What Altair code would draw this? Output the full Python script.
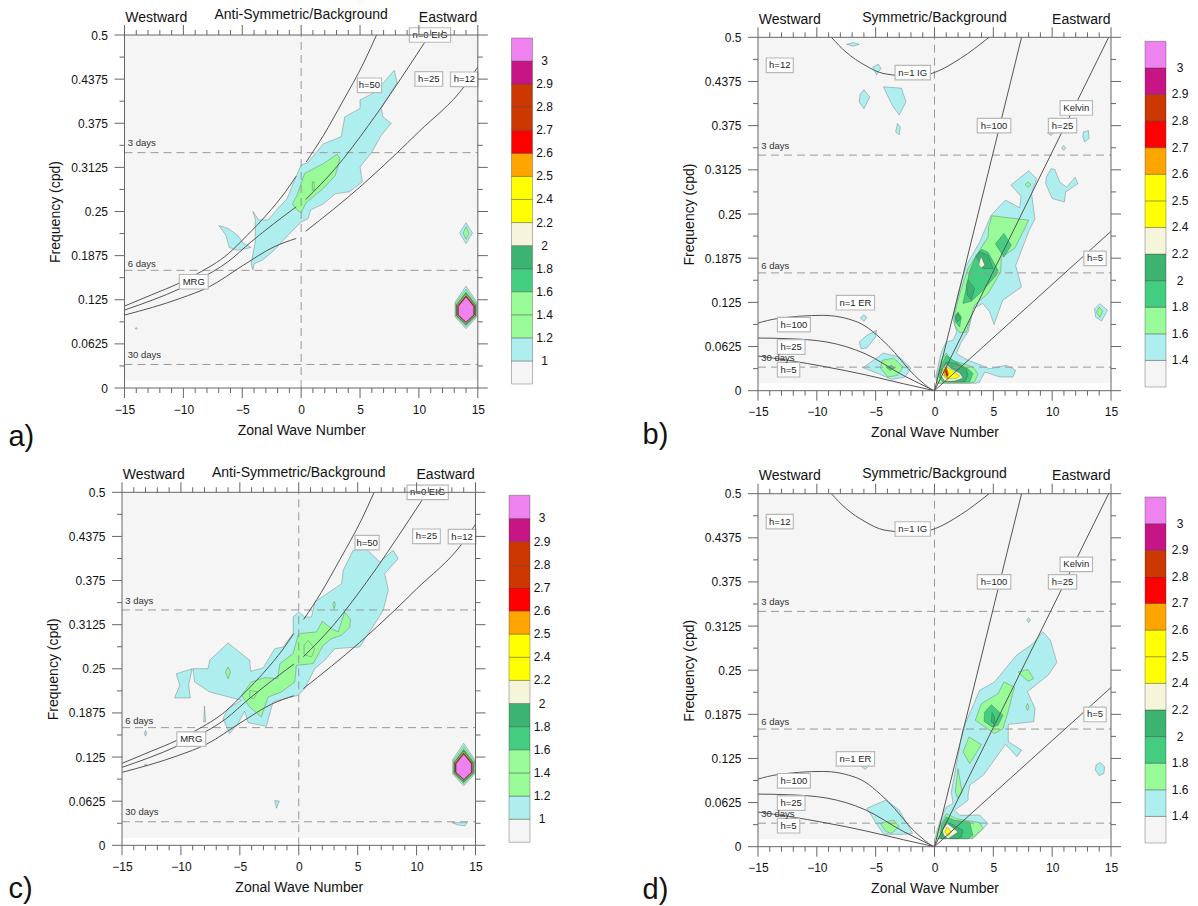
import altair as alt
import pandas as pd

FONT = "Liberation Sans"
COLORS = {"grey": "#f5f5f5", "blue": "#afeeee", "green": "#98fb98", "sea": "#43cd80", "dark": "#3cb371",
          "cream": "#f5f5dc", "yellow": "#ffff00", "orange": "#ffa500", "red": "#ff0000", "brick": "#cd3700",
          "crimson": "#c71585", "orchid": "#ee82ee"}
LEVEL_ORDER = ["blue", "green", "sea", "dark", "cream", "yellow", "orange", "red", "brick", "crimson", "orchid"]

# nested contours of the peak at wavenumber 14: level, top, bottom, half width
PEAK = [("blue", .1445, .084, .93), ("green", .140, .087, .88), ("sea", .136, .089, .82), ("dark", .134, .090, .79),
        ("cream", .133, .091, .76), ("yellow", .132, .092, .74), ("orange", .131, .0925, .72), ("red", .1305, .093, .70),
        ("brick", .130, .0932, .68), ("crimson", .1295, .0935, .66), ("orchid", .129, .0935, .64)]

POLY_A = [
 ("blue", [(-4.1,.25),(-3.6,.238),(-2.8,.238),(-2,.254),(-1.2,.268),(-.5,.297),(0,.316),(.55,.319),(1.9,.346),(3.4,.356),(3.7,.384),(5,.396),(5,.408),(6.3,.419),(7.9,.45),(8.15,.433),(6.8,.396),(6.95,.384),(7.66,.375),(6.8,.358),(6,.334),(5,.313),(5.2,.292),(4.1,.278),(2.9,.275),(1.9,.261),(.8,.252),(.6,.24),(0,.235),(-.85,.221),(-2.3,.195),(-3.3,.181),(-4,.176),(-4.1,.167),(-4.25,.176),(-3.9,.207),(-3.9,.24)]),
 ("blue", [(-7,.23),(-6.2,.226),(-5.4,.2165),(-4.9,.205),(-4.25,.199),(-5.4,.195),(-6.1,.199),(-6.4,.2165)]),
 ("blue", [(14,.234),(14.55,.2195),(14,.2047),(13.45,.2195)]),
 ("blue", [(-14,.0855),(-13.9,.0845),(-14,.083),(-14.1,.0845)]),
 ("green", [(.3,.304),(1.9,.318),(3.05,.331),(3.3,.325),(2.9,.301),(1.9,.283),(.4,.262),(0,.248),(-.4,.253),(-.75,.261),(-.35,.273),(.15,.297)]),
 ("green", [(.95,.292),(1.1,.292),(1.1,.28),(.95,.28)]),
 ("green", [(14,.2285),(14.25,.2195),(14,.2105),(13.75,.2195)]),
]

POLY_B = [
 ("blue", [(-7.47,.49),(-6.9,.4925),(-6.4,.49),(-6.9,.4875)]),
 ("blue", [(-5.25,.458),(-4.77,.462),(-4.55,.456),(-4.93,.447)]),
 ("blue", [(-6,.426),(-5.5,.4155),(-6,.399),(-6.4,.4085),(-6.33,.419)]),
 ("blue", [(-4.35,.43),(-2.8,.428),(-2.43,.4085),(-3,.39),(-3.6,.404)]),
 ("blue", [(-3.15,.378),(-2.9,.373),(-3,.362),(-3.3,.366)]),
 ("blue", [(9.6,.365),(10.15,.365),(9.9,.361)]),
 ("blue", [(12.66,.366),(13.08,.368),(13.15,.357),(12.76,.352),(12.6,.359)]),
 ("blue", [(10.97,.347),(11.17,.3435),(10.97,.34),(10.8,.3435)]),
 ("blue", [(9.9,.314),(10.23,.313),(10.65,.295),(11.23,.288),(11.95,.302),(12.2,.293),(11.14,.281),(11.04,.267),(10,.272),(9.45,.293),(9.5,.302)]),
 ("blue", [(8,.311),(8.7,.3),(8.25,.279),(8.54,.243),(8.05,.227),(6.9,.177),(7.4,.1467),(5.8,.128),(5.06,.0936),(4.69,.1115),(4.12,.1233),(3.27,.1162),(3.13,.102),(2.85,.083),(2.28,.069),(1.86,.0525),(2.85,.043),(3.98,.036),(4.69,.031),(6.1,.036),(6.9,.0289),(6.67,.0194),(5.54,.0194),(4.27,.0265),(3.84,.0124),(3.5,.0105),(.2,.0105),(.1,.02),(.58,.0548),(1,.069),(1.57,.0714),(1.9,.083),(1.55,.102),(2.05,.14),(2.7,.177),(3.83,.21),(4.8,.248),(6.02,.2697),(7.24,.2588),(7.35,.275),(6.5,.291)]),
 ("blue", [(-4.35,.0533),(-3,.0476),(-2,.032),(-2.5,.0193),(-3.64,.016),(-4.77,.024),(-6.07,.0325)]),
 ("blue", [(-6,.1075),(-5.75,.104),(-6,.098),(-6.3,.103)]),
 ("blue", [(-4.93,.0854),(-5,.076),(-5.75,.0604),(-6.23,.0594),(-6.4,.0689),(-5.75,.0783)]),
 ("blue", [(14.06,.1231),(14.7,.1137),(14.2,.0986),(13.7,.104),(13.6,.116)]),
 ("green", [(4.89,.2475),(8,.2413),(7.6,.227),(6.8,.201),(5.68,.189),(5.63,.168),(4.55,.1375),(3.4,.121),(2.7,.083),(2.14,.082),(1.72,.0926),(1.72,.109),(2.14,.137),(2.85,.173),(4.55,.2177),(4.6,.232)]),
 ("green", [(1,.0534),(1.43,.043),(2.42,.0383),(3.27,.0336),(3.7,.024),(3.4,.0124),(3,.0109),(.3,.0109),(.16,.0171),(.58,.043)]),
 ("green", [(-4.45,.043),(-3.47,.0462),(-2.66,.0335),(-3.15,.0217),(-3.96,.0193),(-4.6,.032)]),
 ("green", [(7.95,.2955),(8.2,.2915),(7.95,.2875),(7.7,.2915)]),
 ("green", [(14,.1184),(14.3,.1123),(14.06,.104),(13.76,.111)]),
 ("sea", [(5.9,.2225),(6.53,.206),(5.9,.189),(5.17,.208)]),
 ("sea", [(3.98,.2),(4.55,.196),(5.4,.17),(5.26,.1634),(4.12,.142),(3.13,.1266),(2.42,.1233),(2.99,.17),(3.56,.1918)]),
 ("sea", [(2,.1115),(2.28,.1044),(2.14,.09),(1.77,.0973),(1.77,.1068)]),
 ("sea", [(1,.05),(1.72,.0416),(2.85,.0312),(3.27,.0242),(3,.0124),(.72,.0124),(.36,.0194),(.58,.036)]),
 ("sea", [(-4.12,.0335),(-3.64,.0358),(-3.38,.032),(-3.8,.0288)]),
 ("dark", [(3.84,.1965),(4.55,.1918),(4.97,.1729),(4.12,.1729),(3.56,.1894)]),
 ("dark", [(2.85,.1563),(3.4,.1446),(3.13,.128),(2.8,.135),(2.7,.1493)]),
 ("dark", [(2,.1091),(2.23,.102),(1.94,.0973),(1.8,.104)]),
 ("dark", [(1,.0407),(1.86,.0383),(2.7,.0303),(2.85,.0218),(2.57,.0124),(1,.0124),(.53,.0218),(.64,.0312)]),
 ("cream", [(3.98,.1894),(4.27,.1776),(3.98,.1738),(3.78,.1776),(3.84,.1847)]),
 ("cream", [(1,.0374),(1.43,.0312),(2.14,.025),(2.42,.018),(1.72,.0138),(.87,.0133),(.53,.0218),(.72,.0322)]),
 ("yellow", [(1,.0345),(2.14,.0209),(1.86,.0171),(1,.0171),(.64,.0242),(.78,.0312)]),
 ("orange", [(1,.0336),(1.2,.024),(1.09,.018),(.87,.0218),(.81,.0289)]),
 ("red", [(.98,.0322),(1.15,.0218),(1.04,.0209),(.92,.0275)]),
]

POLY_C = [
 ("blue", [(-6,.2866),(-4.16,.262),(-4.08,.2464),(-3.03,.2512),(-2.04,.2785),(-1.33,.2809),(-.48,.3),(-.48,.3234),(0,.3305),(.51,.3234),(1.08,.3234),(1.36,.3446),(3.63,.3706),(3.77,.3895),(4.62,.4178),(5.75,.4192),(6.88,.4013),(8.02,.4178),(8.44,.406),(7.3,.3848),(7.6,.3612),(7.17,.3328),(5.18,.2809),(3.06,.2785),(2.2,.262),(1.36,.2502),(.51,.2219),(-.06,.2125),(-1.19,.2077),(-2.18,.203),(-2.75,.1685),(-4.3,.1737),(-4.6,.19),(-5.16,.1723),(-5.86,.1582),(-6.43,.1794),(-6,.1936),(-4.87,.2054),(-7.56,.2172),(-8.84,.2313),(-8.98,.2502),(-7.7,.2502),(-7.56,.262)]),
 ("blue", [(-10.4,.243),(-9.04,.25),(-9.35,.2266),(-9.2,.2087),(-10.54,.2087),(-10.1,.2266)]),
 ("blue", [(-8,.1973),(-7.9,.1747),(-8.07,.1747)]),
 ("blue", [(-13,.1626),(-12.9,.1586),(-13,.1546),(-13.1,.1586)]),
 ("blue", [(-13,.1155),(-12.9,.1138),(-13,.112),(-13.1,.1138)]),
 ("blue", [(-2.05,.0633),(-1.66,.0628),(-1.88,.0524)]),
 ("blue", [(13,.0321),(14.3,.0321),(14.1,.0274),(13.5,.0288)]),
 ("green", [(.08,.3),(1.5,.3022),(2,.3173),(2.78,.3069),(3.34,.3022),(3.9,.3305),(4.39,.32),(4.33,.309),(3.63,.2974),(2.78,.2927),(2.07,.2833),(1.22,.2573),(-.2,.2549),(-.34,.2313),(-1.47,.2172),(-2.6,.21),(-3.17,.1818),(-4.16,.196),(-4.87,.2125),(-4.02,.2313),(-2.9,.2375),(-1.8,.2361),(-1.6,.2573),(-.48,.2715),(-.06,.2974)]),
 ("green", [(.8,.2903),(1.36,.2785),(1.08,.2667),(.45,.27),(.45,.2833)]),
 ("green", [(-4.16,.2195),(-3.5,.2172),(-3.8,.2077),(-4.16,.21)]),
 ("green", [(-6,.2526),(-5.8,.2455),(-6,.2361),(-6.23,.2455)]),
 ("green", [(3,.3456),(3.12,.341),(3,.3352),(2.9,.341)]),
]

POLY_D = [
 ("blue", [(9.2,.3045),(9.84,.2927),(10.4,.2611),(9.68,.2432),(7.9,.2195),(8.54,.1959),(8.44,.177),(6.27,.1733),(6.27,.1487),(7.4,.1369),(7,.1275),(6.04,.145),(4.16,.1015),(3,.0873),(2.85,.0728),(2.86,.0661),(1.72,.0515),(2.14,.0445),(3.83,.0449),(4.55,.0327),(3.27,.0114),(.02,.0114),(.44,.035),(1,.0563),(1.57,.061),(1.43,.0775),(2,.1294),(2.42,.1672),(3.84,.2215),(5.1,.2333),(6.96,.2711),(8.4,.288)]),
 ("blue", [(8,.3244),(8.16,.3211),(8,.3173),(7.84,.3211)]),
 ("blue", [(14.06,.1195),(14.45,.1133),(14.4,.1039),(14,.1006),(13.67,.1086),(13.73,.1157)]),
 ("blue", [(-6.33,.1157),(-5.5,.1157),(-5.9,.1095)]),
 ("blue", [(-5.75,.0543),(-4.12,.0661),(-3,.0519),(-1.85,.0189),(-2.66,.0175),(-4.29,.0175),(-4.77,.0283)]),
 ("green", [(5.9,.2333),(6.8,.2262),(6.25,.1908),(5.82,.1672),(5.1,.1601),(3.47,.179),(3.98,.2026),(5.4,.2168)]),
 ("green", [(7.1,.2475),(7.95,.2508),(8.43,.238),(7.95,.2343)]),
 ("green", [(2.93,.1554),(3.98,.1446),(2.99,.1176),(2.42,.1342)]),
 ("green", [(2,.1106),(2.34,.0775),(2,.068),(1.77,.0775)]),
 ("green", [(7.9,.2029),(8.03,.1979),(7.9,.1929),(7.77,.1979)]),
 ("green", [(-4.6,.033),(-3.47,.0378),(-3,.0283),(-3.64,.0189),(-4.12,.0212)]),
 ("green", [(1,.0468),(1.87,.0397),(3.84,.0341),(4.12,.0256),(3.13,.0114),(.16,.0114),(.44,.0279)]),
 ("sea", [(4.83,.2012),(5.82,.1861),(5.4,.1719),(4.89,.1696),(4.2,.1776),(4.27,.1908)]),
 ("sea", [(1,.0421),(1.72,.0374),(2.99,.035),(3.27,.0161),(2.85,.0114),(.44,.0114),(.58,.0303)]),
 ("dark", [(4.89,.1899),(5.12,.1837),(5.06,.1743),(4.83,.1767)]),
 ("dark", [(1,.035),(1.57,.0312),(2.42,.0232),(2.28,.0138),(1.86,.0114),(.58,.0123),(.72,.0256)]),
 ("cream", [(1.09,.0327),(2,.0208),(1.15,.0114),(.81,.0161),(.64,.0232)]),
 ("yellow", [(1.06,.0279),(1.43,.0208),(1.15,.0152),(.87,.0208)]),
]

CURVES_ANTI = [
 [(-15,.116),(-12.7,.132),(-10.3,.149),(-8.8,.162),(-6.2,.19),(-4.6,.216),(-2.95,.245),(-1.33,.278),(-.42,.30)],
 [(.42,.32),(1.9,.358),(3.5,.405),(5.35,.462),(6.4,.5)],
 [(-15,.1104),(-10.26,.141),(-8.8,.153),(-6.2,.179),(-4.25,.207),(-2.3,.233),(-.42,.2566)],
 [(.39,.267),(2.88,.3106),(5.72,.372),(9.4,.4618),(10.9,.5)],
 [(-15,.1033),(-10.26,.127),(-7.8,.1434),(-4.9,.174),(-2.3,.2),(-.42,.2118)],
 [(.39,.222),(5.15,.287),(8.08,.332),(9.97,.3626),(13.93,.4288),(15,.4547)],
]
CURVES_SYM = [
 [(-8.77,.5),(-7.53,.4792),(-5.9,.4604),(-4.29,.4486),(-1.5,.4445),(.1,.4509),(2.2,.47),(4.64,.5)],
 [(0,0),(7.4,.5)],
 [(0,0),(14.8,.5)],
 [(0,0),(15,.2255)],
 [(-15,.0958),(-13.4,.1019),(-9.5,.1066),(-6.56,.0972),(-3.96,.0642),(-1.7,.0217),(-.2,.0005)],
 [(-15,.0745),(-12.4,.0736),(-9.16,.0689),(-5.9,.0524),(-2.66,.0217),(0,0)],
 [(-15,.0491),(-12.4,.0429),(-9.16,.0335),(-5.9,.0226),(-2.66,.0099),(0,0)],
]
# label, centre wavenumber, centre frequency, box width in wavenumbers
BOX_ANTI = [("n=0 EIG",10.94,.5,3.5),("h=50",5.8,.4288,2.05),("h=25",10.84,.4377,2.35),("h=12",13.86,.4373,2.35),("MRG",-9.12,.1505,2.45)]
BOX_SYM = [("h=12",-13.15,.4604,2.3),("n=1 IG",-1.85,.45,3),("h=100",5.06,.375,2.85),("h=25",10.88,.375,2.4),("Kelvin",12.05,.4,2.75),("h=5",13.64,.1873,1.9),
           ("n=1 ER",-6.72,.1245,3.25),("h=100",-11.95,.0934,2.8),("h=25",-12.18,.0618,2.35),("h=5",-12.4,.0297,1.9)]
NOTES = [("3 days",-14.72,.3465),("6 days",-14.72,.176),("30 days",-14.72,.0465)]
PERIODS = [1/3, 1/6, 1/30]
X_MAJOR = [-15,-10,-5,0,5,10,15]
X_MINOR = [-14,-13,-12,-11,-9,-8,-7,-6,-4,-3,-2,-1,1,2,3,4,6,7,8,9,11,12,13,14]
Y_MAJOR = [0,.0625,.125,.1875,.25,.3125,.375,.4375,.5]
Y_MINOR = [.03125,.09375,.15625,.21875,.28125,.34375,.40625,.46875]
BAR_ANTI = ["grey","blue","green","green","sea","dark","cream","yellow","yellow","orange","red","brick","brick","crimson","orchid"]
LAB_ANTI = ["1","1.2","1.4","1.6","1.8","2","2.2","2.4","2.5","2.6","2.7","2.8","2.9","3"]
BAR_SYM = ["grey","blue","green","sea","dark","cream","yellow","yellow","orange","red","brick","crimson","orchid"]
LAB_SYM = ["1.4","1.6","1.8","2","2.2","2.4","2.5","2.6","2.7","2.8","2.9","3"]

INK = "#666666"
H = 356


def frame(rows):
    return alt.Data(values=rows)


def panel(polys, curves, boxes, title, letter, letter_xy, xr, yr, width):
    sx = alt.Scale(domain=[-15, 15], range=xr, nice=False, zero=False)
    sy = alt.Scale(domain=[0, .5], range=yr, nice=False, zero=False)
    axis_x = alt.Axis(values=X_MAJOR, title="Zonal Wave Number", domain=False, ticks=False, tickSize=0, grid=False,
                      labelPadding=16, titlePadding=8, offset=yr[0] - H, labelFontSize=12, titleFontSize=14,
                      titleFontWeight="normal", labelColor="#111", titleColor="#111", labelOverlap=False, labelFlush=False)
    axis_y = alt.Axis(values=Y_MAJOR, title="Frequency (cpd)", domain=False, ticks=False, tickSize=0, grid=False,
                      labelPadding=17, titlePadding=8, offset=-xr[0], labelFontSize=12, titleFontSize=14,
                      titleFontWeight="normal", labelColor="#111", titleColor="#111", labelOverlap=False, labelFlush=False,
                      labelExpr="'' + datum.value")
    X = lambda f: alt.X(f + ":Q", scale=sx, axis=axis_x)
    Y = lambda f: alt.Y(f + ":Q", scale=sy, axis=axis_y)
    layers = []
    layers.append(alt.Chart(frame([{"a": -15, "b": 15, "c": .0105, "d": .5}])).mark_rect(color=COLORS["grey"]).encode(
        x=X("a"), x2="b:Q", y=Y("c"), y2="d:Q"))

    for level in LEVEL_ORDER:
        rows = []
        n = 0
        for lev, pts in polys:
            if lev == level:
                n += 1
                for i, (a, b) in enumerate(list(pts) + [pts[0]]):
                    rows.append({"p": n, "i": i, "k": a, "f": b})
        for lev, top, bottom, hw in PEAK:
            if lev == level:
                mid_hi = bottom + (top - bottom) * .62
                mid_lo = bottom + (top - bottom) * .28
                ring = [(14, top), (14 + hw, mid_hi), (14 + hw, mid_lo), (14, bottom), (14 - hw, mid_lo), (14 - hw, mid_hi), (14, top)]
                if polys is not POLY_B and polys is not POLY_D:
                    n += 1
                    for i, (a, b) in enumerate(ring):
                        rows.append({"p": n, "i": i, "k": a, "f": b})
        if rows:
            layers.append(alt.Chart(frame(rows)).mark_line(fill=COLORS[level], stroke="#333333", strokeOpacity=.4,
                                                           strokeWidth=.7, interpolate="linear").encode(
                x=X("k"), y=Y("f"), detail="p:N", order="i:Q"))

    dash = dict(color="#999999", strokeDash=[8, 5], strokeWidth=1)
    layers.append(alt.Chart(frame([{"f": v, "a": -15, "b": 15} for v in PERIODS])).mark_rule(**dash).encode(
        x=X("a"), x2="b:Q", y=Y("f")))
    layers.append(alt.Chart(frame([{"k": 0, "c": 0, "d": .5}])).mark_rule(**dash).encode(x=X("k"), y=Y("c"), y2="d:Q"))

    rows = []
    for n, c in enumerate(curves):
        for i, (a, b) in enumerate(c):
            rows.append({"p": n, "i": i, "k": a, "f": b})
    layers.append(alt.Chart(frame(rows)).mark_line(color="#555555", strokeWidth=1, interpolate="monotone").encode(
        x=X("k"), y=Y("f"), detail="p:N", order="i:Q"))

    rows = [{"t": t, "k": k, "f": f, "a": k - w / 2, "b": k + w / 2, "c": f - .0103, "d": f + .0103} for t, k, f, w in boxes]
    layers.append(alt.Chart(frame(rows)).mark_rect(fill="white", stroke="#b8b8b8", strokeWidth=1.2).encode(
        x=X("a"), x2="b:Q", y=Y("c"), y2="d:Q"))
    layers.append(alt.Chart(frame(rows)).mark_text(fontSize=9.5, color="#222", font=FONT).encode(
        x=X("k"), y=Y("f"), text="t:N"))
    layers.append(alt.Chart(frame([{"t": t, "k": k, "f": f} for t, k, f in NOTES])).mark_text(
        fontSize=9.5, color="#333", align="left", font=FONT).encode(x=X("k"), y=Y("f"), text="t:N"))

    # frame and tick marks
    bottom, top = yr
    left, right = xr
    rule = dict(color=INK, strokeWidth=1)
    layers.append(alt.Chart(frame([{"k": -15}, {"k": 15}])).mark_rule(**rule).encode(x=X("k"), y=alt.value(top), y2=alt.value(bottom)))
    layers.append(alt.Chart(frame([{"f": 0}, {"f": .5}])).mark_rule(**rule).encode(y=Y("f"), x=alt.value(left), x2=alt.value(right)))
    for vals, size in ((X_MAJOR, 10), (X_MINOR, 5)):
        d = frame([{"k": v} for v in vals])
        layers.append(alt.Chart(d).mark_rule(**rule).encode(x=X("k"), y=alt.value(bottom), y2=alt.value(bottom + size)))
        layers.append(alt.Chart(d).mark_rule(**rule).encode(x=X("k"), y=alt.value(top), y2=alt.value(top - size)))
    for vals, size in ((Y_MAJOR, 10), (Y_MINOR, 5)):
        d = frame([{"f": v} for v in vals])
        layers.append(alt.Chart(d).mark_rule(**rule).encode(y=Y("f"), x=alt.value(left), x2=alt.value(left - size)))
        layers.append(alt.Chart(d).mark_rule(**rule).encode(y=Y("f"), x=alt.value(right), x2=alt.value(right + size)))

    heads = [("Westward", -12.3, .5245, 14), (title, 0, .528, 14), ("Eastward", 12.47, .5245, 14)]
    layers.append(alt.Chart(frame([{"t": t, "k": k, "f": f} for t, k, f, _ in heads])).mark_text(
        fontSize=14, color="#111", font=FONT).encode(x=X("k"), y=Y("f"), text="t:N"))
    layers.append(alt.Chart(frame([{"t": letter, "k": letter_xy[0], "f": letter_xy[1]}])).mark_text(
        fontSize=29, color="#111", align="left", font=FONT).encode(x=X("k"), y=Y("f"), text="t:N"))
    return alt.layer(*layers).properties(width=width, height=H)


def bar(names, labels, xr, yr, width, lab_x):
    n = len(names)
    sx = alt.Scale(domain=[0, 1], range=xr, nice=False, zero=False)
    sy = alt.Scale(domain=[0, n], range=yr, nice=False, zero=False)
    rows = [{"a": i, "b": i + 1, "x0": 0, "x1": 1, "c": COLORS[c]} for i, c in enumerate(names)]
    rect = alt.Chart(frame(rows)).mark_rect(stroke="#333333", strokeOpacity=.35, strokeWidth=1).encode(
        x=alt.X("x0:Q", scale=sx, axis=None), x2="x1:Q",
        y=alt.Y("a:Q", scale=sy, axis=None), y2="b:Q", color=alt.Color("c:N", scale=None))
    text = alt.Chart(frame([{"t": t, "y": i + 1, "x": lab_x} for i, t in enumerate(labels)])).mark_text(
        fontSize=12, color="#111", font=FONT).encode(
        x=alt.X("x:Q", scale=sx, axis=None), y=alt.Y("y:Q", scale=sy, axis=None), text="t:N")
    return alt.layer(rect, text).properties(width=width, height=H)


a = panel(POLY_A, CURVES_ANTI, BOX_ANTI, "Anti-Symmetric/Background", "a)", (-24.86, -.0694), [2.5, 355.8], [353, 0], 387)
cb_a = bar(BAR_ANTI, LAB_ANTI, [2.5, 23.5], [349, 3], 249, 1.57)
b = panel(POLY_B, CURVES_SYM, BOX_SYM, "Symmetric/Background", "b)", (-24.81, -.0627), [0, 353], [355.7, 2.3], 386.5)
cb_b = bar(BAR_SYM, LAB_SYM, [0, 21], [352, 6.3], 40, 1.67)
c = panel(POLY_C, CURVES_ANTI, BOX_ANTI, "Anti-Symmetric/Background", "c)", (-24.64, -.062), [0, 353.5], [353, 0], 387)
cb_c = bar(BAR_ANTI, LAB_ANTI, [0, 21], [350, 3], 249, 1.57)
d = panel(POLY_D, CURVES_SYM, BOX_SYM, "Symmetric/Background", "d)", (-24.81, -.0613), [0, 353], [354.4, 1.4], 386.5)
cb_d = bar(BAR_SYM, LAB_SYM, [0, 21], [350.7, 4.7], 40, 1.67)

chart = alt.concat(a, cb_a, b, cb_b, c, cb_c, d, cb_d, columns=4, spacing=alt.RowColnumber(row=101.3, column=0),
                   bounds="flush", align="each", center=False
                   ).properties(padding={"left": 0, "top": 0, "right": 0, "bottom": 0}, background="white"
                   ).configure(font=FONT, view=alt.ViewConfig(stroke=None))
chart.save("out.html", embed_options={"renderer": "svg", "actions": False})
